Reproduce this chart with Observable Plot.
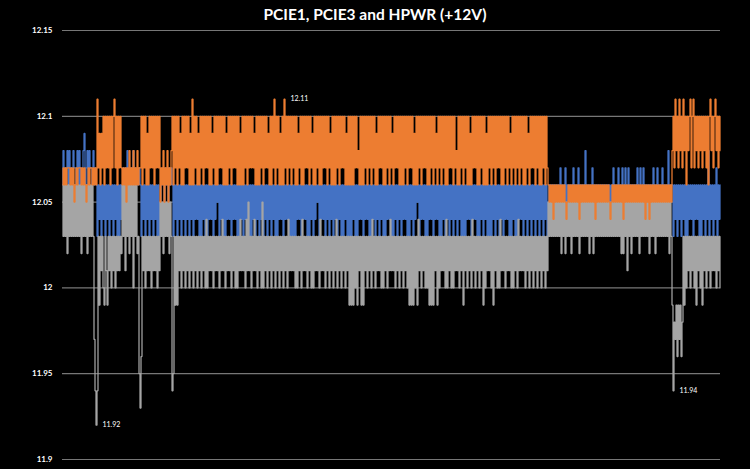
<!DOCTYPE html>
<html>
<head>
<meta charset="utf-8">
<script src="https://cdn.jsdelivr.net/npm/d3@7"></script>
<script src="https://cdn.jsdelivr.net/npm/@observablehq/plot@0.6"></script>
<style>
  html, body { margin: 0; padding: 0; background: #000; }
  #title { height: 22px; line-height: 22px; padding-top: 3px; box-sizing: border-box; text-align: center; color: #fff;
           font-family: Lato, "Open Sans", sans-serif; font-weight: 700; font-size: 15.5px; }
  #chart svg { display: block; }
</style>
</head>
<body>
<div id="title">PCIE1, PCIE3 and HPWR (+12V)</div>
<div id="chart"></div>
<script>
// Readings, one character per sample (about one sample per pixel column).
// '0'..'9' = 12.00..12.09, 'T' = 12.10, 'E' = 12.11, 'a'..'h' = 11.99..11.92
const pcie1Readings =
  "6867786867 6877686867 6896786877 6867 " +
  "6364636463 6463646364 636364 " +
  "6767686767 68676767 " +
  "6364636463 6463646363 " +
  "5676576757 67 " +
  "6364636463 6463646364 6364646363 6463636464 6364656364 6363646463 6464636364 6364636363 6463646364 6364636463 " +
  "6463636464 6364646363 6363646463 6464636364 6364656364 6463646364 6364636463 6364636363 6463636464 6364646363 " +
  "6463646364 6363646463 6364636463 6464636364 6364656364 6463636464 6364646363 6463646364 6364636463 6363646463 " +
  "6464636364 6364636363 6463646364 6364646363 6463636464 6364636463 6463646364 636463 " +
  "5656565656 5676565756 5656575656 7656565856 5656765656 5656565656 5656575656 7656765756 7656565657 5676575656 5656575657 5656765656 8656 " +
  "6364636463 6463636464 6364646363 6463648364 636473646";

const pcie3Readings =
  "6767677767 6756767776 7676567677 6767 " +
  "6E79697T6T 7T7T6T7TE7 T6T7T7 " +
  "6767576867 68676867 " +
  "7T6T7T696T 7T7T6T7T7T " +
  "5768576857 68 " +
  "T6T7T6T796 T6T7T7T696 E6T7T696T7 T6T7T7T6T6 97T6T6T7T7 T6T696T7T6 T7T7T6T696 T6T7T6T7T7 T796T6T6T7 T6T7T796T6 " +
  "T7E6T7T696 T6E7T6T7T6 T7T6T697T6 T6T7T7T6T7 96T6T7T6T6 T7T7T6T796 T6T6T7T6T7 T7T696T6T6 T6T7T786T6 T6T7T6T7T6 " +
  "T7T696T7T7 T6T6T7T6T7 96T7T7T6T6 T6T7T6T7T7 T696T6T7T6 T7T7T6T6T7 T6T796T7T6 T7T6T6T7T7 T6T786T6T7 T6T7T6T696 " +
  "T7T7T6T6T7 T6T696T7T6 T7T6T7T7T6 T6T7T6T796 T7T6T7T6T7 T6T6T796T7 T7T6T7T6T6 T7T6T7 " +
  "6565646565 6565656545 6565656565 6465656565 6565656465 6565656565 6545656565 6565646565 6565656565 6565656465 6465656565 6565656565 6565 " +
  "8T7E8T7E8T 7E8T6T8TE7 TE7T8T7T8T 7T8T7T6TE8 T7TE8T7T8";

const hpwrReadings =
  "6363626363 6363636362 6363626363 63cf " +
  "hf3a3130a3 1a31303130 313132 " +
  "6361636263 6063623e " +
  "gd31303131 3031313031 " +
  "5352535352 53 " +
  "fe3a3a3130 3130313031 3031303130 3130403131 3031313031 4130313130 3130303141 3130415130 3141303130 5031303130 " +
  "3130313031 3031304131 3130303130 4131303130 3031313041 3130313031 3031403130 3130313a3a 3a303a313a 3a31303130 " +
  "4130313130 3031303141 3130313031 3031303a3a 3a303a4130 3130303a3a 3a313a3031 3130403130 3031313031 3a31303130 " +
  "4130313031 3a30313130 3a31303041 3130313130 3031304131 3130313031 3031303130 313031 " +
  "5353535353 5352535253 5352535353 5253535353 5253525353 5353535353 5353535353 5352525351 5352535353 5253535353 5253535253 5353535353 5253 " +
  "afbcadacad b3a3031303 1303a31303 a313031303 131303130";

const seriesNames = ["PCIE1", "PCIE3", "HPWR"];
const seriesColors = ["#4472C4", "#ED7D31", "#A5A5A5"];
const yTicks = [11.9, 11.95, 12, 12.05, 12.1, 12.15];
const yTickLabels = ["11.9", "11.95", "12", "12.05", "12.1", "12.15"];
// Labelled samples: [series, sample index]
const labelSeries = ["PCIE3", "HPWR", "HPWR"];
const labelSamples = [222, 34, 611];

function decode(str) {
  const out = [];
  for (const ch of str.replace(/\s+/g, "")) {
    let off;
    if (ch >= "0" && ch <= "9") off = +ch;
    else if (ch === "T") off = 10;
    else if (ch === "E") off = 11;
    else off = -(ch.charCodeAt(0) - 96);
    out.push(Math.round(1200 + off) / 100);
  }
  return out;
}

const values = {
  PCIE1: decode(pcie1Readings),
  PCIE3: decode(pcie3Readings),
  HPWR: decode(hpwrReadings)
};
const lens = seriesNames.map(n => values[n].length);
if (new Set(lens).size !== 1) throw new Error("length mismatch " + lens.join(","));
const N = lens[0];

const drawOrder = ["PCIE1", "HPWR", "PCIE3"];
const lineMarks = drawOrder.map(name => {
  const pts = values[name].map((v, i) => ({i, v}));
  return Plot.lineY(pts, {x: "i", y: "v", curve: "step", stroke: seriesColors[seriesNames.indexOf(name)],
    strokeWidth: 1.25, strokeLinejoin: "miter", strokeLinecap: "butt"});
});

const labels = labelSeries.map((s, k) => {
  const i = labelSamples[k];
  const v = values[s][i];
  return {i, v, text: String(v)};
});

const chart = Plot.plot({
  width: 750,
  height: 447,
  marginLeft: 62,
  marginRight: 30,
  marginTop: 8,
  marginBottom: 10,
  style: {background: "#000", color: "#fff", fontFamily: "Lato, 'Open Sans', sans-serif"},
  x: {domain: [0, N - 1], axis: null},
  y: {domain: [11.9, 12.15], axis: null},
  marks: [
    Plot.ruleY(yTicks, {stroke: "#777", strokeWidth: 1.2}),
    Plot.axisY(yTicks, {tickSize: 0, tickPadding: 10, label: null, tickFormat: d => yTickLabels[yTicks.indexOf(d)],
      fontSize: 8, fontWeight: "bold", fill: "#fff"}),
    ...lineMarks,
    Plot.text(labels, {x: "i", y: "v", text: "text", dx: 6, textAnchor: "start", fill: "#fff", fontSize: 7})
  ]
});
document.getElementById("chart").appendChild(chart);
</script>
</body>
</html>
